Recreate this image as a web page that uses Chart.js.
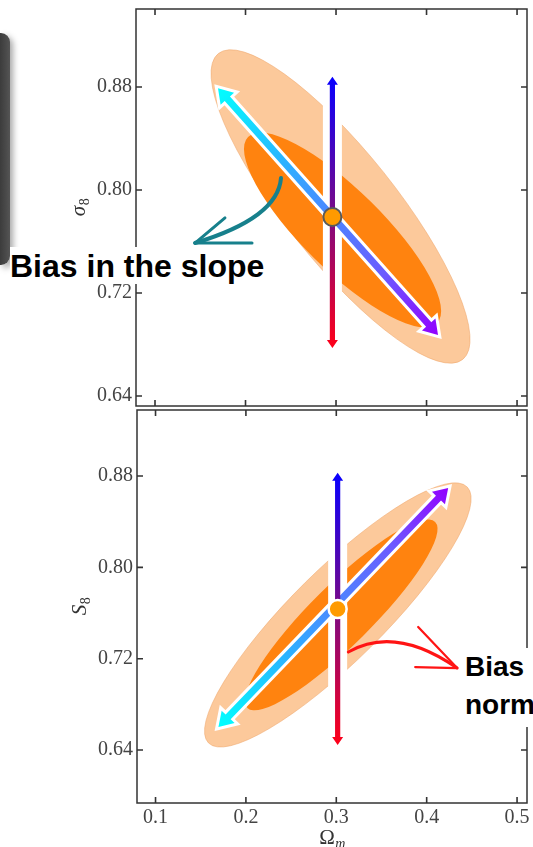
<!DOCTYPE html>
<html>
<head>
<meta charset="utf-8">
<script src="https://cdn.jsdelivr.net/npm/chart.js@4.4.1/dist/chart.umd.min.js"></script>
<style>
  html, body { margin: 0; padding: 0; background: #fff; }
  #page { position: relative; width: 533px; height: 847px; overflow: hidden; background: #fff; }
  canvas { position: absolute; left: 0; }
  #slab {
    position: absolute; left: 0; top: 33px; width: 10px; height: 232px;
    background: linear-gradient(90deg, #3c3c3c, #4a4a4a 60%, #555);
    border-radius: 0 9px 9px 0;
    box-shadow: 3px 3px 6px rgba(0,0,0,0.35);
  }
  .note {
    position: absolute; background: #fff; color: #000;
    font-family: "Liberation Sans", Arial, sans-serif; font-weight: bold;
    white-space: nowrap;
  }
  #noteSlope { left: 10px; top: 247px; height: 37px; width: 258px; font-size: 32px; line-height: 38px; padding-left: 0; }
  #noteNorm { left: 460px; top: 648px; width: 80px; height: 79px; font-size: 28px; line-height: 38px; padding-left: 5px; }
</style>
</head>
<body>
<div id="page">
  <canvas id="sigmaChart" width="533" height="416" style="top:0;width:533px;height:416px"></canvas>
  <canvas id="s8Chart" width="533" height="447" style="top:400px;width:533px;height:447px"></canvas>
  <div id="slab"></div>
  <div class="note" id="noteSlope">Bias in the slope</div>
  <div class="note" id="noteNorm">Bias<br>normalization</div>
</div>
<script>
// Tick values
const omegaTicks = [0.1, 0.2, 0.3, 0.4, 0.5];
const ampTicks = [0.64, 0.72, 0.80, 0.88];

// Fiducial cosmology (Omega_m, amplitude)
const sigma8Fiducial = [0.296, 0.779];
const s8Fiducial = [0.3015, 0.7635];

// Confidence contours: [centre Ωm, centre y, major-axis tip Ωm, tip y, minor-axis tip Ωm, tip y]
const sigma8Contour95 = [0.305, 0.7872, 0.170, 0.906, 0.3525, 0.8138];
const sigma8Contour68 = [0.3072, 0.7689, 0.2028, 0.8412, 0.3382, 0.7911];
const s8Contour95 = [0.3017, 0.7583, 0.4448, 0.8704, 0.3375, 0.7297];
const s8Contour68 = [0.3055, 0.7583, 0.4094, 0.8397, 0.3290, 0.7395];

// Degeneracy directions: [start, end] in (Ωm, amplitude)
const sigma8SlopeArrow = [[0.1696, 0.879], [0.4127, 0.6874]];
const sigma8AmpArrow = [[0.296, 0.888], [0.296, 0.6773]];
const s8SlopeArrow = [[0.1696, 0.6602], [0.4238, 0.8695]];
const s8AmpArrow = [[0.3015, 0.8829], [0.3015, 0.6444]];

// Annotation pointers: [start, control, tip, barb1, barb2]
const slopePointer = [[0.2392, 0.8093], [0.2359, 0.7783], [0.1442, 0.7588], [0.1773, 0.7783], [0.2072, 0.7588]];
const normPointer = [[0.3133, 0.7258], [0.3652, 0.7495], [0.4337, 0.7118], [0.3906, 0.7477], [0.3873, 0.7127]];

const LIGHT = '#FCC99B';
const DARK = '#FF830F';
const TICK_FONT = { family: '"Liberation Serif", "Times New Roman", serif', size: 20 };

function toPx(chart, p) {
  return [chart.scales.x.getPixelForValue(p[0]), chart.scales.y.getPixelForValue(p[1])];
}

function drawContour(ctx, chart, c, color, edge) {
  const [cx, cy] = toPx(chart, [c[0], c[1]]);
  const [mx, my] = toPx(chart, [c[2], c[3]]);
  const [nx, ny] = toPx(chart, [c[4], c[5]]);
  const a = Math.hypot(mx - cx, my - cy);
  const b = Math.hypot(nx - cx, ny - cy);
  ctx.beginPath();
  ctx.ellipse(cx, cy, a, b, Math.atan2(my - cy, mx - cx), 0, Math.PI * 2);
  ctx.fillStyle = color;
  ctx.fill();
  if (edge) { ctx.strokeStyle = edge; ctx.lineWidth = 1; ctx.stroke(); }
}

function doubleArrowPath(ctx, A, B, w, hw, hl) {
  const dx = B[0] - A[0], dy = B[1] - A[1], L = Math.hypot(dx, dy);
  const ux = dx / L, uy = dy / L, nx = -uy, ny = ux;
  const P = (p, s, t) => [p[0] + ux * s + nx * t, p[1] + uy * s + ny * t];
  const pts = [A, P(A, hl, hw), P(A, hl, w), P(B, -hl, w), P(B, -hl, hw), B,
               P(B, -hl, -hw), P(B, -hl, -w), P(A, hl, -w), P(A, hl, -hw)];
  ctx.beginPath();
  pts.forEach((p, i) => i ? ctx.lineTo(p[0], p[1]) : ctx.moveTo(p[0], p[1]));
  ctx.closePath();
}

function drawSlopeArrow(ctx, chart, arrow) {
  const A = toPx(chart, arrow[0]), B = toPx(chart, arrow[1]);
  const g = ctx.createLinearGradient(A[0], A[1], B[0], B[1]);
  g.addColorStop(0, '#00FFFF');
  g.addColorStop(0.3, '#2DB2FF');
  g.addColorStop(0.5, '#4A88FF');
  g.addColorStop(0.75, '#6A5CFF');
  g.addColorStop(1, '#9300FF');
  doubleArrowPath(ctx, A, B, 3.5, 9, 14);
  ctx.lineJoin = 'miter';
  ctx.miterLimit = 3;
  ctx.strokeStyle = '#fff';
  ctx.lineWidth = 6;
  ctx.stroke();
  ctx.fillStyle = g;
  ctx.fill();
}

function drawAmpGap(ctx, chart, arrow) {
  const A = toPx(chart, arrow[0]), B = toPx(chart, arrow[1]);
  // white gap cut through the contours behind the vertical arrow
  ctx.fillStyle = '#fff';
  ctx.fillRect(A[0] - 9.5, A[1], 19, B[1] - A[1]);
  return [A, B];
}

function drawAmpShaft(ctx, A, B) {
  const g = ctx.createLinearGradient(A[0], A[1], B[0], B[1]);
  g.addColorStop(0, '#0800FF');
  g.addColorStop(0.5, '#7A0A86');
  g.addColorStop(1, '#FF0018');
  doubleArrowPath(ctx, A, B, 2.6, 5.5, 8);
  ctx.fillStyle = g;
  ctx.fill();
}

function drawPointer(ctx, chart, ptr, color, width) {
  const [s, c, t, b1, b2] = ptr.map(p => toPx(chart, p));
  ctx.strokeStyle = color;
  ctx.lineCap = 'round';
  ctx.lineJoin = 'round';
  ctx.lineWidth = width;
  ctx.beginPath();
  ctx.moveTo(s[0], s[1]);
  ctx.quadraticCurveTo(c[0], c[1], t[0], t[1]);
  ctx.stroke();
  ctx.lineWidth = width * 0.75;
  ctx.beginPath();
  ctx.moveTo(b1[0], b1[1]);
  ctx.lineTo(t[0], t[1]);
  ctx.lineTo(b2[0], b2[1]);
  ctx.stroke();
}

// Frame with inward ticks on all four sides
function drawFrame(chart) {
  const ctx = chart.ctx, a = chart.chartArea;
  ctx.save();
  ctx.strokeStyle = '#333';
  ctx.lineWidth = 1.5;
  ctx.strokeRect(a.left, a.top, a.right - a.left, a.bottom - a.top);
  ctx.lineWidth = 1.6;
  ctx.beginPath();
  chart.scales.x.ticks.forEach(t => {
    const x = chart.scales.x.getPixelForValue(t.value);
    ctx.moveTo(x, a.bottom); ctx.lineTo(x, a.bottom - 6);
    ctx.moveTo(x, a.top); ctx.lineTo(x, a.top + 6);
  });
  chart.scales.y.ticks.forEach(t => {
    const y = chart.scales.y.getPixelForValue(t.value);
    ctx.moveTo(a.left, y); ctx.lineTo(a.left + 6, y);
    ctx.moveTo(a.right, y); ctx.lineTo(a.right - 6, y);
  });
  ctx.stroke();
  ctx.restore();
}

// Math-style axis title: main symbol plus subscript
function drawMathTitle(ctx, x, y, rotate, main, mainItalic, sub) {
  ctx.save();
  ctx.translate(x, y);
  if (rotate) ctx.rotate(-Math.PI / 2);
  ctx.fillStyle = '#333';
  ctx.textBaseline = 'alphabetic';
  const fMain = (mainItalic ? 'italic ' : '') + '21px "Liberation Serif", serif';
  const fSub = (sub.italic ? 'italic ' : '') + '14px "Liberation Serif", serif';
  ctx.font = fMain;
  const w1 = ctx.measureText(main).width;
  ctx.font = fSub;
  const w2 = ctx.measureText(sub.text).width;
  const x0 = -(w1 + w2) / 2;
  ctx.font = fMain;
  ctx.fillText(main, x0, 0);
  ctx.font = fSub;
  ctx.fillText(sub.text, x0 + w1 + 0.5, 4);
  ctx.restore();
}

function panelPlugin(spec) {
  return {
    id: 'panel',
    beforeDatasetsDraw(chart) {
      const ctx = chart.ctx, a = chart.chartArea;
      ctx.save();
      ctx.beginPath();
      ctx.rect(a.left, a.top, a.right - a.left, a.bottom - a.top);
      ctx.clip();
      drawContour(ctx, chart, spec.c95, LIGHT, 'rgba(238,168,110,0.55)');
      drawContour(ctx, chart, spec.c68, DARK);
      const [A, B] = drawAmpGap(ctx, chart, spec.amp);
      drawSlopeArrow(ctx, chart, spec.slope);
      drawAmpShaft(ctx, A, B);
      if (spec.pointer) drawPointer(ctx, chart, spec.pointer, spec.pointerColor, spec.pointerWidth);
      ctx.restore();
    },
    afterDatasetsDraw(chart) {
      drawFrame(chart);
      const a = chart.chartArea, ctx = chart.ctx;
      drawMathTitle(ctx, a.left - 51, (a.top + a.bottom) / 2, true, spec.yTitle, true, { text: '8', italic: false });
      if (spec.xTitle) {
        drawMathTitle(ctx, (a.left + a.right) / 2, chart.height - 3, false, 'Ω', false, { text: 'm', italic: true });
      }
    }
  };
}

// Pin an axis box to a fixed size with no extra label overhang padding
function pinAxis(size, horizontal) {
  return s => {
    if (horizontal) s.height = size; else s.width = size;
    s.paddingTop = 0; s.paddingBottom = 0; s.paddingLeft = 0; s.paddingRight = 0;
  };
}

function makeChart(id, cfg) {
  return new Chart(document.getElementById(id), {
    type: 'scatter',
    data: {
      datasets: [{
        data: [{ x: cfg.fid[0], y: cfg.fid[1] }],
        pointRadius: 9,
        pointHoverRadius: 9,
        pointBackgroundColor: '#FF9A00',
        pointBorderColor: cfg.fidBorder,
        pointBorderWidth: cfg.fidBorderWidth
      }]
    },
    options: {
      responsive: false,
      animation: false,
      events: [],
      layout: { padding: cfg.padding, autoPadding: false },
      plugins: { legend: { display: false }, tooltip: { enabled: false } },
      scales: {
        x: {
          type: 'linear', min: cfg.xRange[0], max: cfg.xRange[1],
          afterBuildTicks: s => { s.ticks = omegaTicks.map(v => ({ value: v })); },
          afterFit: pinAxis(cfg.xAxisHeight, true),
          grid: { display: false, drawTicks: false },
          border: { display: false },
          ticks: {
            display: cfg.showX, color: '#444', font: TICK_FONT, padding: 3,
            maxRotation: 0, autoSkip: false,
            callback: v => v.toFixed(1)
          }
        },
        y: {
          type: 'linear', min: cfg.yRange[0], max: cfg.yRange[1],
          afterBuildTicks: s => { s.ticks = ampTicks.map(v => ({ value: v })); },
          afterFit: pinAxis(cfg.yAxisWidth, false),
          grid: { display: false, drawTicks: false },
          border: { display: false },
          ticks: {
            color: '#444', font: TICK_FONT, padding: 4, autoSkip: false,
            callback: v => v.toFixed(2)
          }
        }
      }
    },
    plugins: [panelPlugin(cfg.panel)]
  });
}

makeChart('sigmaChart', {
  fid: sigma8Fiducial, fidBorder: '#5a5a5a', fidBorderWidth: 2,
  padding: { top: 9, right: 6, bottom: 0, left: 0 },
  xRange: [0.079, 0.511], yRange: [0.6322, 0.9406],
  xAxisHeight: 10, yAxisWidth: 136, showX: false,
  panel: {
    c95: sigma8Contour95, c68: sigma8Contour68,
    slope: sigma8SlopeArrow, amp: sigma8AmpArrow,
    pointer: slopePointer, pointerColor: '#17808C', pointerWidth: 4,
    yTitle: 'σ'
  }
});

makeChart('s8Chart', {
  fid: s8Fiducial, fidBorder: '#ffffff', fidBorderWidth: 2.5,
  padding: { top: 10, right: 6, bottom: 0, left: 0 },
  xRange: [0.0795, 0.511], yRange: [0.5936, 0.9378],
  xAxisHeight: 44, yAxisWidth: 137, showX: true,
  panel: {
    c95: s8Contour95, c68: s8Contour68,
    slope: s8SlopeArrow, amp: s8AmpArrow,
    pointer: normPointer, pointerColor: '#FF1414', pointerWidth: 3,
    yTitle: 'S', xTitle: true
  }
});
</script>
</body>
</html>
